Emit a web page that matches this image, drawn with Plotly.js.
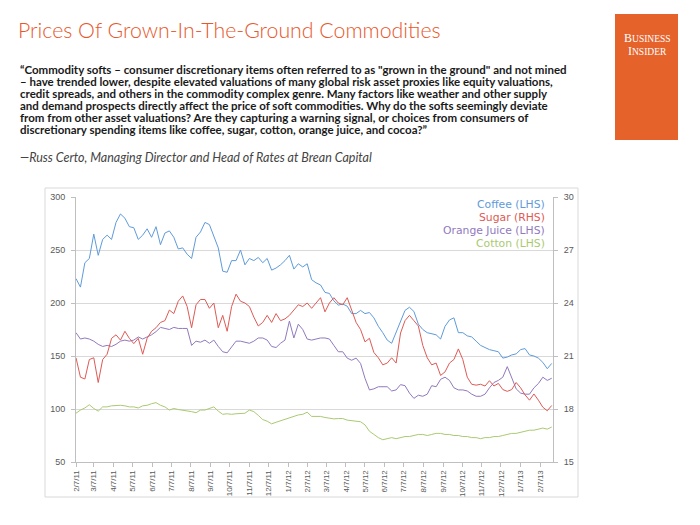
<!DOCTYPE html>
<html>
<head>
<meta charset="utf-8">
<script src="https://cdn.plot.ly/plotly-3.0.1.min.js"></script>
<style>html,body{margin:0;padding:0;background:#fff;}#chart{width:700px;height:525px;}</style>
</head>
<body>
<div id="chart"></div>
<script>
var dates = ['2011-02-07','2011-02-14','2011-02-21','2011-02-28',
'2011-03-07','2011-03-14','2011-03-21','2011-03-28',
'2011-04-04','2011-04-11','2011-04-18','2011-04-25',
'2011-05-02','2011-05-09','2011-05-16','2011-05-23','2011-05-30',
'2011-06-06','2011-06-13','2011-06-20','2011-06-27',
'2011-07-04','2011-07-11','2011-07-18','2011-07-25',
'2011-08-01','2011-08-08','2011-08-15','2011-08-22','2011-08-29',
'2011-09-05','2011-09-12','2011-09-19','2011-09-26',
'2011-10-03','2011-10-10','2011-10-17','2011-10-24','2011-10-31',
'2011-11-07','2011-11-14','2011-11-21','2011-11-28',
'2011-12-05','2011-12-12','2011-12-19','2011-12-26',
'2012-01-02','2012-01-09','2012-01-16','2012-01-23','2012-01-30',
'2012-02-06','2012-02-13','2012-02-20','2012-02-27',
'2012-03-05','2012-03-12','2012-03-19','2012-03-26',
'2012-04-02','2012-04-09','2012-04-16','2012-04-23','2012-04-30',
'2012-05-07','2012-05-14','2012-05-21','2012-05-28',
'2012-06-04','2012-06-11','2012-06-18','2012-06-25',
'2012-07-02','2012-07-09','2012-07-16','2012-07-23','2012-07-30',
'2012-08-06','2012-08-13','2012-08-20','2012-08-27',
'2012-09-03','2012-09-10','2012-09-17','2012-09-24',
'2012-10-01','2012-10-08','2012-10-15','2012-10-22','2012-10-29',
'2012-11-05','2012-11-12','2012-11-19','2012-11-26',
'2012-12-03','2012-12-10','2012-12-17','2012-12-24','2012-12-31',
'2013-01-07','2013-01-14','2013-01-21','2013-01-28',
'2013-02-04','2013-02-11','2013-02-18','2013-02-25'];

var coffee = [223,215,238,242,265,245,260,264,260,276,
284,280,272,271,260,264,270,262,272,255,
266,268,262,251,252,246,242,262,267,276,
274,262,252,230,229,240,240,250,236,242,
240,243,238,242,231,233,236,240,245,232,
237,234,237,222,219,217,210,209,202,198,
199,197,190,190,193,190,191,186,178,172,
165,162,173,183,193,196,192,180,175,172,
171,170,166,178,184,186,172,172,169,168,
164,160,158,156,155,154,148,149,151,152,
156,157,151,150,148,144,138,143];

var sugar = [20.9,19.8,19.7,20.8,20.9,19.5,20.8,21.1,22.0,22.2,
21.9,22.4,22.0,21.7,22.0,21.1,22.0,22.4,22.6,22.9,
23.0,23.6,23.4,24.1,24.4,23.8,22.6,23.9,24.2,24.2,
23.7,24.0,22.6,23.3,22.4,23.8,24.5,24.1,24.0,23.8,
23.2,22.7,22.9,23.3,22.9,23.4,23.0,23.1,23.3,23.6,
23.9,23.8,24.0,23.7,24.0,24.3,23.5,24.0,24.3,24.0,
23.9,24.3,23.6,22.9,22.5,21.8,22.0,21.2,20.9,20.5,
20.6,20.9,20.6,22.3,23.0,23.3,23.0,22.7,21.6,20.9,
20.5,20.6,19.9,20.1,20.6,20.8,21.4,20.8,19.8,19.4,
19.35,19.4,19.3,19.6,19.3,19.45,19.1,19.0,19.1,19.5,
19.2,18.8,18.5,18.85,18.5,18.1,17.9,18.2];

var orangeJuice = [172,166,167,166,164,161,159,160,159,161,
164,165,164,165,168,166,168,170,173,177,
176,175,177,176,176,176,160,164,163,165,
162,165,159,154,153,158,164,164,163,162,
164,167,167,165,159,158,162,165,183,167,
180,175,166,165,166,167,167,166,160,154,
154,148,146,148,143,129,118,119,121,121,
121,117,118,123,122,115,110,113,112,114,
122,121,128,130,127,120,118,118,117,114,
112,112,114,120,125,127,130,140,129,119,
115,114,114,120,124,130,127,129];

var cotton = [96,99,101,104,100.5,98,102,102,103,103.5,
103.5,103,102,102,101,103,103.5,105,106,103.5,
102,99,100.5,99.5,99,98.5,97.5,96.5,99,99,
100.5,102,98,95,95.5,95,95.5,96,96,99,
97.5,94,90,88.5,86,87.5,89,90.5,91.5,93,
94.4,95,97,93,93,93,92,91,90.7,91,
91,89.5,89,88,88,85,79,76,73,71,
72,73,72,73,74,74,75,76,76,75,
76,77,77,76,76,75,75,74,74,73,
73,72,73,73,74,74,75,76,77,77,
78,79,80,80,81,82,81,83];

var tickDates = ['2011-02-07','2011-03-07','2011-04-07','2011-05-07','2011-06-07','2011-07-07',
'2011-08-07','2011-09-07','2011-10-07','2011-11-07','2011-12-07','2012-01-07','2012-02-07',
'2012-03-07','2012-04-07','2012-05-07','2012-06-07','2012-07-07','2012-08-07','2012-09-07',
'2012-10-07','2012-11-07','2012-12-07','2013-01-07','2013-02-07'];
var tickLabels = ['2/7/11','3/7/11','4/7/11','5/7/11','6/7/11','7/7/11','8/7/11','9/7/11',
'10/7/11','11/7/11','12/7/11','1/7/12','2/7/12','3/7/12','4/7/12','5/7/12','6/7/12','7/7/12',
'8/7/12','9/7/12','10/7/12','11/7/12','12/7/12','1/7/13','2/7/13'];

var seriesNames = ['Coffee (LHS)','Sugar (RHS)','Orange Juice (LHS)','Cotton (LHS)'];
var seriesColors = ['#5F9BDA','#DE5A55','#9179BE','#AACA72'];

var quoteLines = [
 '\u201CCommodity softs \u2013 consumer discretionary items often referred to as "grown in the ground" and not mined',
 '\u2013 have trended lower, despite elevated valuations of many global risk asset proxies like equity valuations,',
 'credit spreads, and others in the commodity complex genre. Many factors like weather and other supply',
 'and demand prospects directly affect the price of soft commodities. Why do the softs seemingly deviate',
 'from from other asset valuations? Are they capturing a warning signal, or choices from consumers of',
 'discretionary spending items like coffee, sugar, cotton, orange juice, and cocoa?\u201D'
];
var attribution = '\u2014Russ Certo, Managing Director and Head of Rates at Brean Capital';

var traces = [
 {x: dates, y: coffee, name: seriesNames[0], type: 'scatter', mode: 'lines', line: {color: seriesColors[0], width: 1}, yaxis: 'y'},
 {x: dates, y: sugar, name: seriesNames[1], type: 'scatter', mode: 'lines', line: {color: seriesColors[1], width: 1}, yaxis: 'y2'},
 {x: dates, y: orangeJuice, name: seriesNames[2], type: 'scatter', mode: 'lines', line: {color: seriesColors[2], width: 1}, yaxis: 'y'},
 {x: dates, y: cotton, name: seriesNames[3], type: 'scatter', mode: 'lines', line: {color: seriesColors[3], width: 1}, yaxis: 'y'}
];

var L = 76, R = 553, T = 197, B = 462;
function px(x){ return (x - L) / (R - L); }
function py(y){ return (B - y) / (B - T); }

var annotations = [];
var qy = [69, 81, 93, 105, 117, 129.5];
quoteLines.forEach(function(t, i){
  annotations.push({text: t, xref: 'paper', yref: 'paper', x: px(18), y: py(qy[i]), xanchor: 'left', yanchor: 'middle',
    showarrow: false, font: {family: 'Lato', size: 11.5, color: '#1a1a1a', weight: 'bold'}});
});
annotations.push({text: '<i>' + attribution + '</i>', xref: 'paper', yref: 'paper', x: px(18), y: py(157), xanchor: 'left', yanchor: 'middle',
  showarrow: false, font: {family: 'Lato', size: 12.5, color: '#444444'}});
var ly = [204.5, 217.5, 230.5, 243.5];
seriesNames.forEach(function(n, i){
  annotations.push({text: n, xref: 'paper', yref: 'paper', x: px(546), y: py(ly[i]), xanchor: 'right', yanchor: 'middle',
    showarrow: false, borderpad: 0, font: {family: 'DejaVu Sans', size: 10.8, color: seriesColors[i]}});
});
annotations.push({text: '<span style="font-size:12px">B</span>USINESS', xref: 'paper', yref: 'paper', x: px(647), y: py(38), xanchor: 'center', yanchor: 'middle',
  showarrow: false, font: {family: 'Liberation Serif', size: 9.5, color: '#ffffff'}});
annotations.push({text: '<span style="font-size:12px">I</span>NSIDER', xref: 'paper', yref: 'paper', x: px(647), y: py(51), xanchor: 'center', yanchor: 'middle',
  showarrow: false, font: {family: 'Liberation Serif', size: 9.5, color: '#ffffff'}});

var shapes = [
 {type: 'rect', xref: 'paper', yref: 'paper', x0: px(45), x1: px(578), y0: py(497), y1: py(188), line: {color: '#D9D9D9', width: 1}, layer: 'below'},
 {type: 'rect', xref: 'paper', yref: 'paper', x0: px(615), x1: px(678), y0: py(140), y1: py(14), line: {width: 0}, fillcolor: '#E5622B', layer: 'below'}
];

var tickFont = {family: 'Liberation Sans', size: 9, color: '#595959'};

var layout = {
  width: 700, height: 525,
  margin: {l: L, r: 700 - R, t: T, b: 525 - B, pad: 0},
  paper_bgcolor: '#ffffff', plot_bgcolor: '#ffffff',
  showlegend: false,
  title: {text: 'Prices Of Grown-In-The-Ground Commodities', x: 18/700, xanchor: 'left', y: 1 - 31/525, yanchor: 'middle',
    font: {family: 'Lato', size: 21.3, color: '#E8572B', weight: 300}},
  xaxis: {type: 'date', range: ['2011-02-07', '2013-02-27'], tickmode: 'array', tickvals: tickDates, ticktext: tickLabels,
    tickangle: -90, tickfont: {family: 'Liberation Sans', size: 8, color: '#595959'}, showgrid: false, showline: true,
    linecolor: '#BFBFBF', linewidth: 1, ticks: 'outside', ticklen: 4, tickcolor: '#BFBFBF', zeroline: false, fixedrange: true},
  yaxis: {range: [50, 300], dtick: 50, tick0: 50, tickfont: tickFont, showgrid: true, gridcolor: '#D9D9D9', gridwidth: 1,
    showline: true, linecolor: '#BFBFBF', ticks: 'outside', ticklen: 4, tickcolor: '#BFBFBF', zeroline: false, ticklabelstandoff: 4},
  yaxis2: {range: [15, 30], dtick: 3, tick0: 15, overlaying: 'y', side: 'right', tickfont: tickFont, showgrid: false,
    showline: true, linecolor: '#BFBFBF', ticks: 'outside', ticklen: 4, tickcolor: '#BFBFBF', zeroline: false, ticklabelstandoff: 4},
  annotations: annotations,
  shapes: shapes
};

Plotly.newPlot('chart', traces, layout, {displayModeBar: false, staticPlot: true});
</script>
</body>
</html>
